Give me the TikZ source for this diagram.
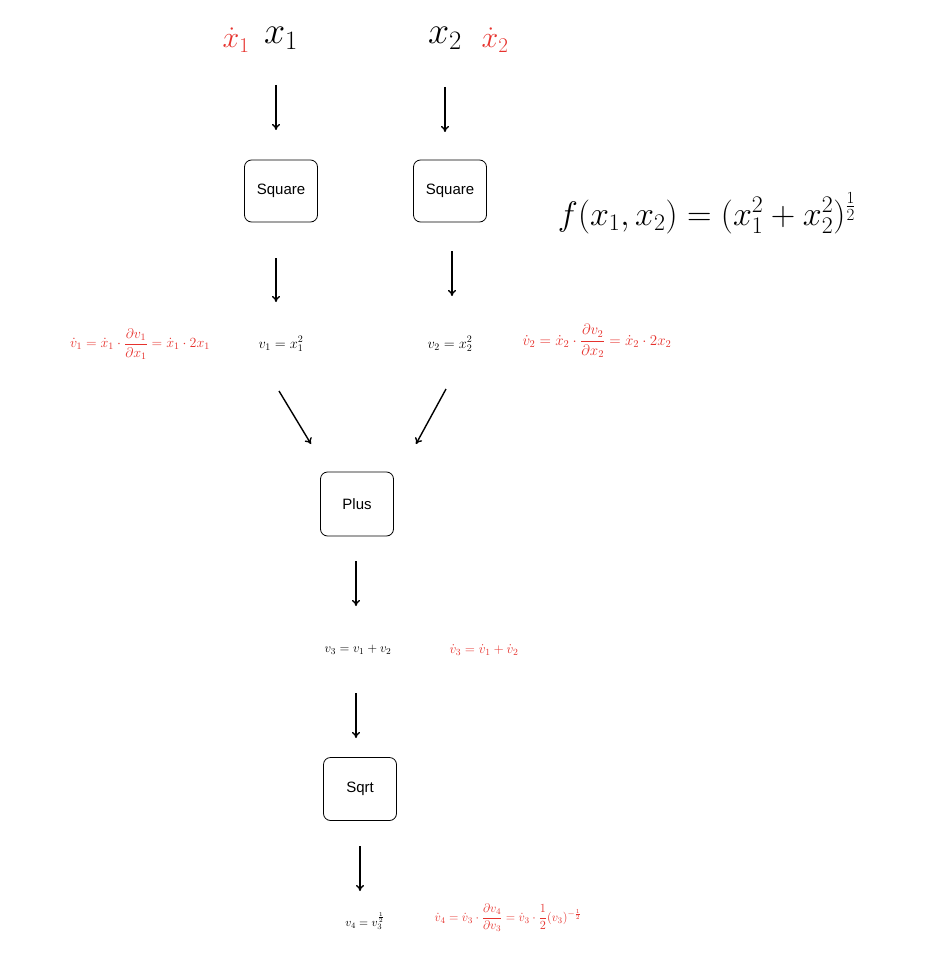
\RequirePackage{fix-cm}
\documentclass[tikz,border=0pt]{standalone}
\usepackage{amsmath}
\usepackage{fontspec}
\newfontfamily\hel{Liberation Sans}
\usetikzlibrary{arrows.meta}
\definecolor{rd}{RGB}{230,50,45}
\begin{document}
\begin{tikzpicture}[x=1pt,y=-1pt,
  box/.style={draw,rounded corners=7pt,minimum width=73pt,minimum height=62pt,font=\hel\fontsize{15}{18}\selectfont,line width=0.8pt},
  arr/.style={-{To[length=6pt,width=8pt]},line width=1.4pt},
  eq/.style={font=\fontsize{14.4}{17}\selectfont},
  req/.style={text=rd,font=\fontsize{14}{16}\selectfont},
  big/.style={font=\fontsize{38}{40}\selectfont}]
\useasboundingbox (0,0) rectangle (950,955);
\node[big,text=rd,font=\fontsize{30}{32}\selectfont] (dx1) at (236,40) {$\dot x_1$};
\node[big] (x1) at (281,38) {$x_1$};
\node[big] (x2) at (445,38) {$x_2$};
\node[big,text=rd,font=\fontsize{30}{32}\selectfont] (dx2) at (495,40) {$\dot x_2$};
\node[box] (sq1) at (281,191) {Square};
\node[box] (sq2) at (450,191) {Square};
\node[font=\fontsize{34}{36}\selectfont] (f) at (707,213) {$f(x_1,x_2)=(x_1^2+x_2^2)^{\frac12}$};
\node[eq] (v1) at (281,344) {$v_1=x_1^2$};
\node[req] (dv1) at (140,344) {$\dot v_1=\dot x_1\cdot\dfrac{\partial v_1}{\partial x_1}=\dot x_1\cdot 2x_1$};
\node[eq] (v2) at (450,344) {$v_2=x_2^2$};
\node[req,font=\fontsize{15}{17}\selectfont] (dv2) at (597,341) {$\dot v_2=\dot x_2\cdot\dfrac{\partial v_2}{\partial x_2}=\dot x_2\cdot 2x_2$};
\node[box,minimum height=64pt] (plus) at (357,504) {Plus};
\node[eq,font=\fontsize{13}{15}\selectfont] (v3) at (358,650) {$v_3=v_1+v_2$};
\node[req,font=\fontsize{13.4}{16}\selectfont] (dv3) at (484,650) {$\dot v_3=\dot v_1+\dot v_2$};
\node[box,minimum height=63pt] (sqrt) at (360,789) {Sqrt};
\node[eq,font=\fontsize{11.7}{14}\selectfont] (v4) at (365,921) {$v_4=v_3^{\frac12}$};
\node[req,font=\fontsize{12.4}{14}\selectfont] (dv4) at (508,918) {$\dot v_4=\dot v_3\cdot\dfrac{\partial v_4}{\partial v_3}=\dot v_3\cdot\dfrac12(v_3)^{-\frac12}$};
\coordinate (a1s) at (276,85); \coordinate (a1e) at (276,130);
\coordinate (a2s) at (445,87); \coordinate (a2e) at (445,132);
\coordinate (a3s) at (276,258); \coordinate (a3e) at (276,302);
\coordinate (a4s) at (452,251); \coordinate (a4e) at (452,296);
\coordinate (a5s) at (279,391); \coordinate (a5e) at (311,444);
\coordinate (a6s) at (446,389); \coordinate (a6e) at (416,444);
\coordinate (a7s) at (356,561); \coordinate (a7e) at (356,606);
\coordinate (a8s) at (356,693); \coordinate (a8e) at (356,738);
\coordinate (a9s) at (360,846); \coordinate (a9e) at (360,891);
\foreach \i in {1,...,9} \draw[arr] (a\i s) -- (a\i e);
\end{tikzpicture}
\end{document}
